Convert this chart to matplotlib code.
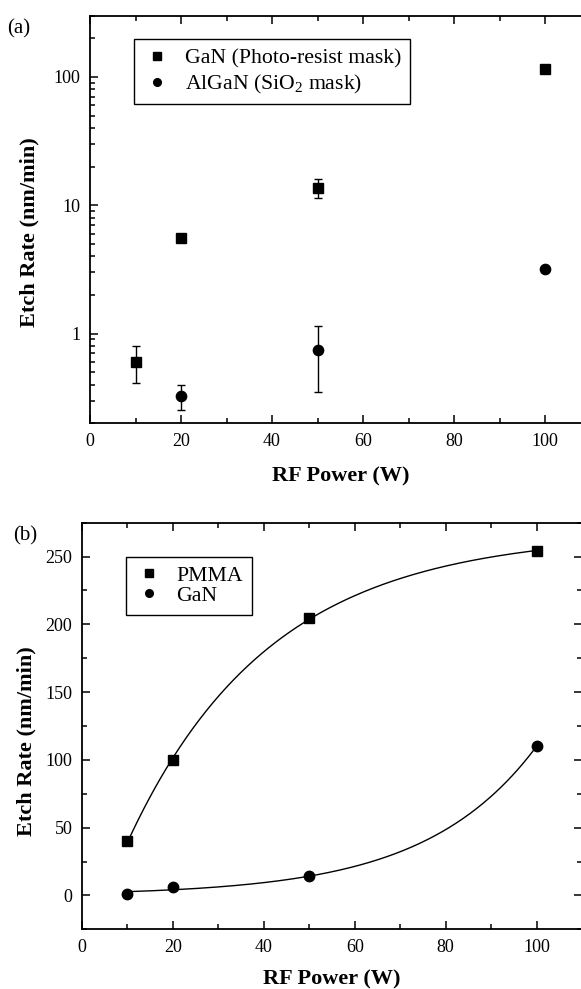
import numpy as np
import matplotlib
matplotlib.use("Agg")
import matplotlib.pyplot as plt
from matplotlib.ticker import FixedLocator, LogLocator, NullFormatter, FuncFormatter

plt.rcParams['font.family'] = ['Liberation Serif', 'DejaVu Serif']
plt.rcParams['mathtext.fontset'] = 'custom'
plt.rcParams['mathtext.rm'] = 'Liberation Serif'
plt.rcParams['mathtext.it'] = 'Liberation Serif:italic'
plt.rcParams['mathtext.bf'] = 'Liberation Serif:bold'

# ---------------- data: panel (a) ----------------
power_a = [10, 20, 50, 100]
gan_pr_rate = [0.60, 5.55, 13.6, 115.0]
gan_pr_low = [0.41, 5.30, 11.4, 115.0]
gan_pr_high = [0.80, 5.80, 16.0, 115.0]

power_algan = [20, 50, 100]
algan_rate = [0.325, 0.75, 3.19]
algan_low = [0.255, 0.35, 3.19]
algan_high = [0.396, 1.15, 3.19]

# ---------------- data: panel (b) ----------------
power_b = [10, 20, 50, 100]
pmma_rate = [40, 100, 205, 254]
gan_rate = [1, 6, 14, 110]

label_a1 = "GaN (Photo-resist mask)"
label_a2 = "AlGaN (SiO$_2$ mask)"
label_b1 = "PMMA"
label_b2 = "GaN"
xlabel = "RF Power (W)"
ylabel = "Etch Rate (nm/min)"

W, H = 581, 989
fig = plt.figure(figsize=(W / 100, H / 100), dpi=100)


def box(l, r, t, b):
    return [l / W, 1 - b / H, (r - l) / W, (b - t) / H]


axa = fig.add_axes(box(90, 590.5, 15.7, 423.3))
axb = fig.add_axes(box(82, 582, 522.7, 929.3))

tick_fs = 13
label_fs = 16
leg_fs = 15.7


def style(ax, xpad, ylab_x, ylab_y):
    for s in ax.spines.values():
        s.set_linewidth(1.3)
    ax.tick_params(which='both', direction='in', top=True, right=True,
                   labelsize=tick_fs, width=1.1, pad=7)
    ax.tick_params(which='major', length=6)
    ax.tick_params(which='minor', length=3.6)
    ax.set_xlabel(xlabel, fontsize=label_fs, fontweight='bold', labelpad=xpad)
    ax.set_ylabel(ylabel, fontsize=label_fs, fontweight='bold')
    ax.yaxis.set_label_coords(ylab_x, ylab_y)
    ax.set_xlim(0, 110)
    ax.set_xticks([0, 20, 40, 60, 80, 100])
    ax.xaxis.set_minor_locator(FixedLocator([10, 30, 50, 70, 90, 110]))


def legend(ax, handles, labels, x, y, spacing):
    leg = ax.legend(handles, labels, loc='upper left',
                    bbox_to_anchor=(x / W, 1 - y / H), bbox_transform=fig.transFigure,
                    borderaxespad=0, fontsize=leg_fs, frameon=True, fancybox=False,
                    edgecolor='black', framealpha=1, handlelength=1.3, handletextpad=0.62,
                    labelspacing=spacing, borderpad=0.4)
    leg.get_frame().set_linewidth(1.0)
    return leg


# ---------------- panel (a) ----------------
style(axa, 12, -0.10, 0.468)
axa.set_yscale('log')
axa.set_ylim(0.2, 300)
axa.yaxis.set_major_locator(LogLocator(base=10, numticks=10))
axa.yaxis.set_minor_locator(LogLocator(base=10, subs=np.arange(2, 10), numticks=10))
axa.yaxis.set_major_formatter(FuncFormatter(lambda v, p: f"{v:g}"))
axa.yaxis.set_minor_formatter(NullFormatter())

ga = np.array(gan_pr_rate)
err_g = [ga - np.array(gan_pr_low), np.array(gan_pr_high) - ga]
aa = np.array(algan_rate)
err_a = [aa - np.array(algan_low), np.array(algan_high) - aa]
axa.errorbar(power_a, gan_pr_rate, yerr=err_g, fmt='s', color='black', ms=6.8,
             capsize=2.8, elinewidth=1.0, capthick=1.0)
axa.errorbar(power_algan, algan_rate, yerr=err_a, fmt='o', color='black', ms=7.4,
             capsize=2.8, elinewidth=1.0, capthick=1.0)

h1 = axa.plot([], [], 's', color='black', ms=5.5)[0]
h2 = axa.plot([], [], 'o', color='black', ms=5.5)[0]
legend(axa, [h1, h2], [label_a1, label_a2], 134.4, 39.3, 0.2)

# ---------------- panel (b) ----------------
style(axb, 9.5, -0.092, 0.464)
axb.set_ylim(-25, 275)
axb.set_yticks([0, 50, 100, 150, 200, 250])
axb.yaxis.set_minor_locator(FixedLocator([-25, 25, 75, 125, 175, 225, 275]))

xb = np.array(power_b, dtype=float)
yp = np.array(pmma_rate, dtype=float)
yg = np.array(gan_rate, dtype=float)

# saturation fit  y = A - B exp(-x/t)
best = None
for t in np.linspace(5, 150, 2000):
    M = np.column_stack([np.ones_like(xb), -np.exp(-xb / t)])
    coef, *_ = np.linalg.lstsq(M, yp, rcond=None)
    sse = np.sum((M @ coef - yp) ** 2)
    if best is None or sse < best[0]:
        best = (sse, t, coef)
_, tp, cp = best
# growth fit  y = A exp(x/t)
bestg = None
for t in np.linspace(5, 150, 2000):
    e = np.exp(xb / t)
    A = np.sum(yg * e) / np.sum(e * e)
    sse = np.sum((A * e - yg) ** 2)
    if bestg is None or sse < bestg[0]:
        bestg = (sse, t, A)
_, tg, Ag = bestg

xf = np.linspace(xb.min(), xb.max(), 300)
axb.plot(xf, cp[0] - cp[1] * np.exp(-xf / tp), color='black', lw=1.0)
axb.plot(xf, Ag * np.exp(xf / tg), color='black', lw=1.0)
axb.plot(xb, yp, 's', color='black', ms=7)
axb.plot(xb, yg, 'o', color='black', ms=7.5)

h3 = axb.plot([], [], 's', color='black', ms=5.5)[0]
h4 = axb.plot([], [], 'o', color='black', ms=5.5)[0]
legend(axb, [h3, h4], [label_b1, label_b2], 126, 556.7, 0.0)

fig.text(19 / W, 1 - 28.7 / H, "(a)", fontsize=15, ha='center', va='center')
fig.text(25 / W, 1 - 535.7 / H, "(b)", fontsize=15, ha='center', va='center')

fig.savefig("out.png", dpi=100)
